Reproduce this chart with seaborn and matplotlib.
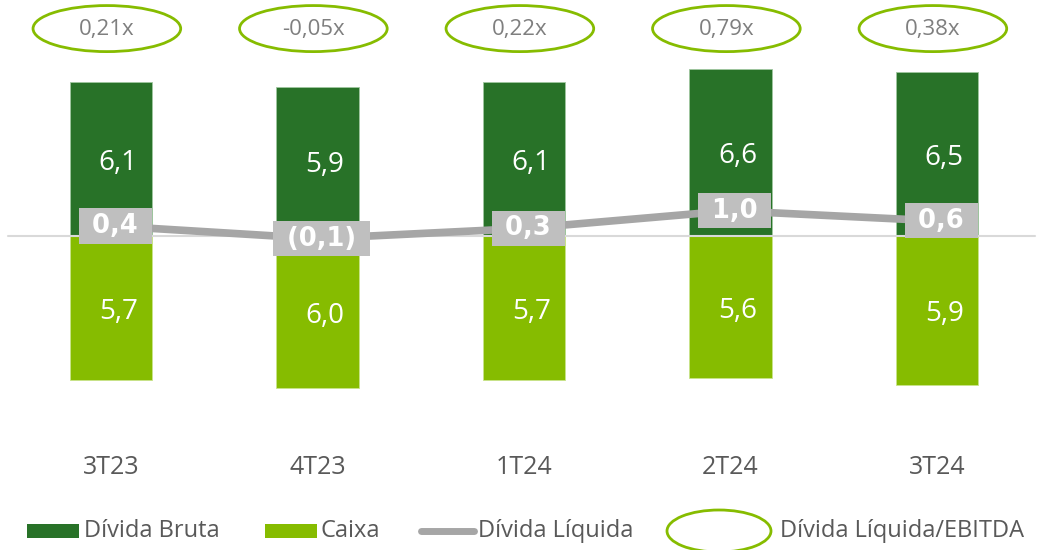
import matplotlib
matplotlib.use("Agg")
import matplotlib.pyplot as plt
import seaborn as sns
import pandas as pd
from matplotlib.patches import Ellipse, Rectangle
from matplotlib.lines import Line2D

sns.set_theme(style="white")
plt.rcParams["font.family"] = ["Open Sans", "DejaVu Sans"]

periods = ["3T23", "4T23", "1T24", "2T24", "3T24"]
divida_bruta = [6.1, 5.9, 6.1, 6.6, 6.5]
caixa = [5.7, 6.0, 5.7, 5.6, 5.9]
divida_liquida = [0.4, -0.1, 0.3, 1.0, 0.6]
liq_labels = ["0,4", "(0,1)", "0,3", "1,0", "0,6"]
alavancagem = ["0,21x", "-0,05x", "0,22x", "0,79x", "0,38x"]

dark_green = "#287228"
light_green = "#86BC00"
gray_line = "#A6A6A6"
gray_box = "#BFBFBF"
text_gray = "#595959"

df = pd.DataFrame({"periodo": periods, "bruta": divida_bruta,
                   "caixa": [-c for c in caixa], "liquida": divida_liquida,
                   "pos": range(len(periods))})

fig = plt.figure(figsize=(10.48, 5.5), dpi=100)
ax = fig.add_axes([0, 0, 1, 1])

sns.barplot(data=df, x="periodo", y="bruta", color=dark_green, width=0.4,
            saturation=1, edgecolor="#9FC79F", linewidth=0.6, ax=ax)
sns.barplot(data=df, x="periodo", y="caixa", color=light_green, width=0.4,
            saturation=1, edgecolor="#C9E38A", linewidth=0.6, ax=ax)

ax.axhline(0, color="#D9D9D9", lw=1.5, xmin=0.008, xmax=0.988, zorder=1)

sns.lineplot(data=df, x="pos", y="liquida", color=gray_line, lw=5.5, ax=ax,
             zorder=4)

for i in range(len(periods)):
    ax.text(i + 0.035, divida_bruta[i] / 2 - 0.15, f"{divida_bruta[i]:.1f}".replace(".", ","),
            ha="center", va="center", color="white", fontsize=20)
    ax.text(i + 0.035, -caixa[i] / 2 - 0.15, f"{caixa[i]:.1f}".replace(".", ","),
            ha="center", va="center", color="white", fontsize=20)
    ax.text(i + 0.02, divida_liquida[i], f" {liq_labels[i]} ", ha="center", va="center",
            color="white", fontsize=18.5, fontweight="bold", family="DejaVu Sans",
            zorder=6,
            bbox=dict(boxstyle="square,pad=0.18", fc=gray_box, ec="none"))
    ax.add_patch(Ellipse((i - 0.02, 8.2), 0.715, 1.82, fill=False, ec=light_green,
                         lw=2, zorder=5))
    ax.text(i - 0.02, 8.15, alavancagem[i], ha="center", va="center",
            color="#7F7F7F", fontsize=16)
    ax.text(i, -9.15, periods[i], ha="center", va="center", color=text_gray,
            fontsize=18)

ax.set_xlim(-0.5375, 4.5375)
ax.set_ylim(-12.41, 9.33)
ax.axis("off")

# legend drawn in figure pixels
H, W = 550, 1048
ly = 1 - 531 / H
fig.patches.append(Rectangle((27 / W, ly - 7 / H), 52 / W, 14 / H, fc=dark_green,
                             ec="none", transform=fig.transFigure))
fig.text(84 / W, ly, "Dívida Bruta", va="center", color=text_gray, fontsize=17)
fig.patches.append(Rectangle((265 / W, ly - 7 / H), 52 / W, 14 / H, fc=light_green,
                             ec="none", transform=fig.transFigure))
fig.text(321 / W, ly, "Caixa", va="center", color=text_gray, fontsize=17)
fig.lines.append(Line2D([421 / W, 474 / W], [ly, ly], color=gray_line, lw=5,
                        solid_capstyle="round", transform=fig.transFigure))
fig.text(478 / W, ly, "Dívida Líquida", va="center", color=text_gray, fontsize=17)
fig.patches.append(Ellipse((719 / W, ly), 104 / W, 42 / H, fill=False,
                           ec=light_green, lw=2, transform=fig.transFigure))
fig.text(780 / W, ly, "Dívida Líquida/EBITDA", va="center", color=text_gray,
         fontsize=17)

fig.savefig("out.png", dpi=100)
